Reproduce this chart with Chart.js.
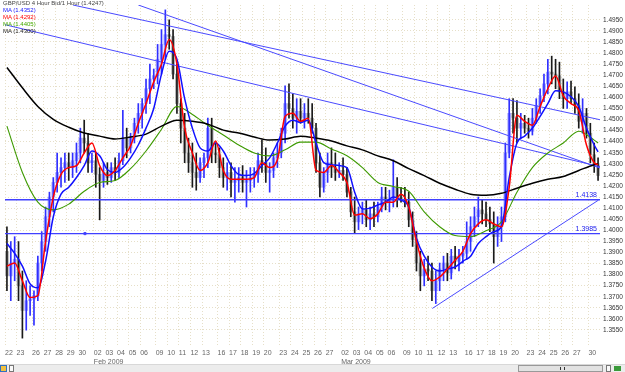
<!DOCTYPE html>
<html lang="en">
<head>
<meta charset="UTF-8">
<title>GBP/USD 4 Hour</title>
<script src="https://cdn.jsdelivr.net/npm/chart.js"></script>
<style>
    body { margin: 0; background: #fff; font-family: "Liberation Sans", Arial, sans-serif; }
    #wrap { position: relative; width: 625px; height: 364px; }
    #legend { position: absolute; left: 3px; top: 0; font-size: 6px; line-height: 7px; color: #444; }
    #strip { position: relative; width: 625px; height: 8px; background: #ececec; border-top: 1px solid #d8d8d8; box-sizing: border-box; }
    #strip div { position: absolute; box-sizing: border-box; }
</style>
</head>
<body>
<div id="wrap">
    <canvas id="fx"></canvas>
    <div id="legend">
        <div>GBP/USD 4 Hour Bid/1 Hour (1.4247)</div>
        <div style="color:#2020ff">MA (1.4352)</div>
        <div style="color:#ff0000">MA (1.4292)</div>
        <div style="color:#44aa00">MA (1.4405)</div>
        <div style="color:#222">MA (1.4300)</div>
    </div>
</div>
<div id="strip">
    <div style="left:0;top:0;width:7px;height:7px;background:#f0c040;border:1px solid #3070c0"></div>
    <div style="left:9px;top:0;width:5px;height:7px;background:#fafafa;border:1px solid #777"></div>
    <div style="left:518px;top:0;width:85px;height:7px;background:#e2e2e2;border:1px solid #999"></div>
    <div style="left:560px;top:2px;width:5px;height:3px;border-left:1px solid #333;border-right:1px solid #333"></div>
    <div style="left:606px;top:0;width:5px;height:7px;background:#fafafa;border:1px solid #777"></div>
    <div style="left:614px;top:1px;width:7px;height:5px;background:#3a9a3a"></div>
</div>
<script>
// 8-hour slots, one slot for each Sunday session
const dayLabels = ['22','23','26','27','28','29','30','02','03','04','05','06','09','10','11','12','13','16','17','18','19','20','23','24','25','26','27','02','03','04','05','06','09','10','11','12','13','16','17','18','19','20','23','24','25','26','27','30'];
const dayStart = [0,3,7,10,13,16,19,23,26,29,32,35,39,42,45,48,51,55,58,61,64,67,71,74,77,80,83,87,90,93,96,99,103,106,109,112,115,119,122,125,128,131,135,138,141,144,147,151];
const monthNames = { 23: 'Feb 2009', 87: 'Mar 2009' };

const open = [
    1.3905,1.3794,1.3852,1.3869,1.3749,1.3638,1.3682,1.3690,1.3705,1.3852,
    1.3949,1.4061,1.4150,1.4216,1.4261,1.4283,1.4305,1.4283,1.4314,1.4349,
    1.4416,1.4394,1.4305,1.4314,1.4252,1.4225,1.4261,1.4238,1.4283,1.4261,
    1.4314,1.4416,1.4372,1.4416,1.4483,1.4528,1.4572,1.4639,1.4683,1.4697,
    1.4772,1.4839,1.4883,1.4875,1.4705,1.4572,1.4461,1.4349,1.4305,1.4261,
    1.4238,1.4305,1.4327,1.4461,1.4349,1.4341,1.4283,1.4238,1.4261,1.4216,
    1.4225,1.4238,1.4216,1.4225,1.4238,1.4252,1.4314,1.4305,1.4261,1.4270,
    1.4327,1.4349,1.4438,1.4572,1.4550,1.4506,1.4537,1.4506,1.4528,1.4506,
    1.4461,1.4305,1.4194,1.4261,1.4305,1.4283,1.4261,1.4270,1.4252,1.4172,
    1.4083,1.4038,1.4074,1.4092,1.4047,1.4074,1.4061,1.4105,1.4150,1.4127,
    1.4136,1.4194,1.4150,1.4141,1.4127,1.4047,1.3958,1.3852,1.3794,1.3825,
    1.3816,1.3727,1.3772,1.3825,1.3852,1.3807,1.3883,1.3860,1.3883,1.3896,
    1.3949,1.4016,1.4061,1.4092,1.4074,1.4047,1.4029,1.3971,1.4016,1.4061,
    1.4349,1.4528,1.4506,1.4461,1.4483,1.4461,1.4447,1.4506,1.4563,1.4607,
    1.4661,1.4714,1.4705,1.4697,1.4625,1.4594,1.4625,1.4594,1.4563,1.4492,
    1.4528,1.4438,1.4341,1.4296
];
const high = [
    1.4016,1.3949,1.3971,1.3949,1.3816,1.3772,1.3749,1.3727,1.3883,1.3994,
    1.4105,1.4172,1.4238,1.4349,1.4327,1.4349,1.4349,1.4349,1.4394,1.4461,
    1.4497,1.4438,1.4349,1.4349,1.4283,1.4305,1.4305,1.4305,1.4327,1.4349,
    1.4541,1.4461,1.4438,1.4506,1.4572,1.4594,1.4683,1.4750,1.4728,1.4839,
    1.4906,1.4995,1.4950,1.4906,1.4750,1.4594,1.4528,1.4416,1.4394,1.4349,
    1.4327,1.4349,1.4506,1.4506,1.4394,1.4372,1.4327,1.4305,1.4305,1.4283,
    1.4283,1.4292,1.4270,1.4283,1.4283,1.4349,1.4407,1.4372,1.4305,1.4349,
    1.4394,1.4461,1.4652,1.4661,1.4616,1.4594,1.4594,1.4572,1.4594,1.4572,
    1.4483,1.4349,1.4283,1.4349,1.4372,1.4349,1.4305,1.4327,1.4283,1.4194,
    1.4150,1.4105,1.4127,1.4136,1.4105,1.4127,1.4127,1.4194,1.4194,1.4181,
    1.4318,1.4238,1.4194,1.4194,1.4172,1.4083,1.3994,1.3905,1.3869,1.3883,
    1.3852,1.3816,1.3852,1.3883,1.3896,1.3914,1.3927,1.3914,1.3927,1.4038,
    1.4061,1.4105,1.4150,1.4136,1.4127,1.4105,1.4083,1.4061,1.4105,1.4394,
    1.4594,1.4594,1.4585,1.4528,1.4519,1.4506,1.4550,1.4594,1.4639,1.4705,
    1.4772,1.4786,1.4772,1.4759,1.4683,1.4670,1.4674,1.4648,1.4616,1.4594,
    1.4550,1.4483,1.4394,1.4327
];
const low = [
    1.3727,1.3682,1.3772,1.3682,1.3513,1.3549,1.3615,1.3571,1.3682,1.3816,
    1.3905,1.4016,1.4083,1.4172,1.4194,1.4216,1.4225,1.4238,1.4261,1.4305,
    1.4349,1.4261,1.4261,1.4194,1.4047,1.4194,1.4207,1.4216,1.4225,1.4238,
    1.4296,1.4327,1.4349,1.4394,1.4438,1.4461,1.4528,1.4572,1.4639,1.4661,
    1.4705,1.4772,1.4817,1.4683,1.4528,1.4394,1.4305,1.4261,1.4194,1.4181,
    1.4216,1.4238,1.4283,1.4305,1.4305,1.4238,1.4194,1.4181,1.4150,1.4127,
    1.4172,1.4172,1.4105,1.4172,1.4194,1.4216,1.4261,1.4216,1.4172,1.4238,
    1.4283,1.4327,1.4394,1.4506,1.4461,1.4438,1.4483,1.4461,1.4483,1.4438,
    1.4261,1.4150,1.4172,1.4216,1.4238,1.4225,1.4238,1.4225,1.4150,1.4061,
    1.3985,1.4003,1.4029,1.4016,1.4003,1.4016,1.4038,1.4083,1.4092,1.4083,
    1.4105,1.4105,1.4127,1.4105,1.4016,1.3927,1.3816,1.3727,1.3749,1.3772,
    1.3682,1.3669,1.3727,1.3772,1.3772,1.3780,1.3825,1.3816,1.3852,1.3869,
    1.3905,1.3971,1.4016,1.4029,1.4016,1.3994,1.3852,1.3927,1.3949,1.4038,
    1.4327,1.4438,1.4394,1.4416,1.4438,1.4416,1.4430,1.4483,1.4528,1.4581,
    1.4616,1.4661,1.4639,1.4594,1.4550,1.4550,1.4572,1.4528,1.4461,1.4438,
    1.4416,1.4305,1.4261,1.4225
];
const close = [
    1.3794,1.3852,1.3869,1.3749,1.3638,1.3682,1.3690,1.3705,1.3852,1.3949,
    1.4061,1.4150,1.4216,1.4261,1.4283,1.4305,1.4283,1.4314,1.4349,1.4416,
    1.4394,1.4305,1.4314,1.4252,1.4225,1.4261,1.4238,1.4283,1.4261,1.4314,
    1.4416,1.4372,1.4416,1.4483,1.4528,1.4572,1.4639,1.4683,1.4697,1.4772,
    1.4839,1.4883,1.4875,1.4705,1.4572,1.4461,1.4349,1.4305,1.4261,1.4238,
    1.4305,1.4327,1.4461,1.4349,1.4341,1.4283,1.4238,1.4261,1.4216,1.4225,
    1.4238,1.4216,1.4225,1.4238,1.4252,1.4314,1.4305,1.4261,1.4270,1.4327,
    1.4349,1.4438,1.4572,1.4550,1.4506,1.4537,1.4506,1.4528,1.4506,1.4461,
    1.4305,1.4194,1.4261,1.4305,1.4283,1.4261,1.4270,1.4252,1.4172,1.4083,
    1.4038,1.4074,1.4092,1.4047,1.4074,1.4061,1.4105,1.4150,1.4127,1.4136,
    1.4194,1.4150,1.4141,1.4127,1.4047,1.3958,1.3852,1.3794,1.3825,1.3816,
    1.3727,1.3772,1.3825,1.3852,1.3807,1.3883,1.3860,1.3883,1.3896,1.3949,
    1.4016,1.4061,1.4092,1.4074,1.4047,1.4029,1.3971,1.4016,1.4061,1.4349,
    1.4528,1.4506,1.4461,1.4483,1.4461,1.4447,1.4506,1.4563,1.4607,1.4661,
    1.4714,1.4705,1.4697,1.4625,1.4594,1.4625,1.4594,1.4563,1.4492,1.4528,
    1.4438,1.4341,1.4296,1.4247
];

// moving averages, read at every 2nd / 4th slot
const fastSlots = [0,2,4,6,8,10,12,14,16,18,20,22,24,26,28,30,32,34,36,38,40,42,44,46,48,50,52,54,56,58,60,62,64,66,68,70,72,74,76,78,80,82,84,86,88,90,92,94,96,98,100,102,104,106,108,110,112,114,116,118,120,122,124,126,128,130,132,134,136,138,140,142,144,146,148,150,152,153];
const maRed = [1.3838,1.3852,1.3772,1.3696,1.3705,1.3949,1.4150,1.4252,1.4283,1.4292,1.4349,1.4394,1.4292,1.4247,1.4270,1.4327,1.4381,1.4483,1.4572,1.4670,1.4750,1.4861,1.4750,1.4461,1.4349,1.4270,1.4305,1.4403,1.4270,1.4230,1.4230,1.4230,1.4238,1.4305,1.4283,1.4318,1.4514,1.4528,1.4492,1.4506,1.4270,1.4261,1.4292,1.4261,1.4216,1.4069,1.4074,1.4052,1.4074,1.4127,1.4127,1.4163,1.4105,1.3949,1.3829,1.3772,1.3789,1.3825,1.3865,1.3905,1.3985,1.4029,1.4047,1.4029,1.4016,1.4194,1.4519,1.4492,1.4474,1.4559,1.4639,1.4697,1.4607,1.4572,1.4541,1.4385,1.4305,1.4296];
const maBlue = [1.3940,1.3896,1.3838,1.3758,1.3740,1.3860,1.4061,1.4163,1.4194,1.4238,1.4292,1.4358,1.4336,1.4274,1.4261,1.4283,1.4327,1.4385,1.4461,1.4550,1.4705,1.4808,1.4772,1.4594,1.4461,1.4372,1.4358,1.4394,1.4358,1.4292,1.4252,1.4247,1.4256,1.4292,1.4327,1.4394,1.4470,1.4497,1.4487,1.4497,1.4394,1.4305,1.4296,1.4292,1.4283,1.4172,1.4096,1.4100,1.4114,1.4127,1.4150,1.4136,1.4105,1.3963,1.3883,1.3834,1.3816,1.3825,1.3834,1.3860,1.3883,1.3940,1.3971,1.3994,1.4016,1.4238,1.4394,1.4425,1.4461,1.4514,1.4572,1.4630,1.4625,1.4603,1.4559,1.4461,1.4385,1.4354];
const slowSlots = [0,4,8,12,16,20,24,28,32,36,40,44,48,52,56,60,64,68,72,76,80,84,88,92,96,100,104,108,112,116,120,124,128,132,136,140,144,148,152,153];
const maGreen = [1.4470,1.4261,1.4127,1.4092,1.4118,1.4176,1.4216,1.4225,1.4278,1.4358,1.4456,1.4559,1.4523,1.4474,1.4430,1.4385,1.4349,1.4336,1.4363,1.4398,1.4398,1.4367,1.4336,1.4283,1.4216,1.4198,1.4176,1.4083,1.4016,1.3976,1.3971,1.3998,1.4038,1.4172,1.4283,1.4349,1.4394,1.4447,1.4407,1.4394];
const maBlack = [1.4735,1.4643,1.4559,1.4501,1.4465,1.4439,1.4425,1.4412,1.4421,1.4434,1.4470,1.4497,1.4492,1.4479,1.4452,1.4439,1.4421,1.4407,1.4412,1.4425,1.4416,1.4403,1.4381,1.4363,1.4336,1.4314,1.4278,1.4247,1.4212,1.4185,1.4163,1.4158,1.4167,1.4190,1.4212,1.4230,1.4243,1.4270,1.4296,1.4300];

// drawn trend lines: [slot, price] end points
const trendLines = [
    [[-0.5, 1.4928], [153.5, 1.4287]],
    [[17.1, 1.5017], [153.5, 1.4499]],
    [[34.0, 1.5017], [153.5, 1.4281]],
    [[110.1, 1.3647], [153.1, 1.4136]]
];
const levels = [1.4138, 1.3985];
const levelMark = [20.2, 1.3985];

const upWick = '#3030ff', upBody = '#a8a8ff';
const downWick = '#1a1a1a', downBody = '#b0b0b0';
const lineBlue = '#4a4aff';
const isUp = i => close[i] >= open[i];

const datasets = [
    {
        type: 'bar', label: 'wick', order: 4, grouped: false, barThickness: 1,
        data: open.map((o, i) => ({ x: i, y: [low[i], high[i]] })),
        backgroundColor: c => isUp(c.dataIndex) ? upWick : downWick
    },
    {
        type: 'bar', label: 'body', order: 5, grouped: false, barThickness: 3, minBarLength: 1,
        data: open.map((o, i) => ({ x: i, y: [o, close[i]] })),
        backgroundColor: c => isUp(c.dataIndex) ? upBody : downBody
    }
];

trendLines.forEach(t => datasets.push({
    type: 'line', order: 3, data: t.map(p => ({ x: p[0], y: p[1] })),
    borderColor: lineBlue, borderWidth: 1, pointRadius: 0
}));
levels.forEach(v => datasets.push({
    type: 'line', order: 3, data: [{ x: -0.5, y: v }, { x: 153.5, y: v }],
    borderColor: '#4040ff', borderWidth: 1.4, pointRadius: 0
}));
datasets.push({
    type: 'line', order: 3, data: [{ x: levelMark[0], y: levelMark[1] }],
    pointStyle: 'rect', pointRadius: 1.5, backgroundColor: lineBlue, borderColor: lineBlue, showLine: false
});

function maLine(xs, ys, color, width, order) {
    return {
        type: 'line', order: order, data: xs.map((x, i) => ({ x: x, y: ys[i] })),
        borderColor: color, borderWidth: width, pointRadius: 0, cubicInterpolationMode: 'monotone'
    };
}
datasets.push(maLine(slowSlots, maBlack, '#000000', 1.5, 2));
datasets.push(maLine(slowSlots, maGreen, '#3d9a00', 1.1, 2));
datasets.push(maLine(fastSlots, maBlue, '#1010ff', 1.5, 1));
datasets.push(maLine(fastSlots, maRed, '#ff0000', 1.5, 0));

const levelLabels = {
    id: 'levelLabels',
    afterDatasetsDraw(chart) {
        const { ctx, chartArea, scales } = chart;
        ctx.save();
        ctx.font = '7px "Liberation Sans", Arial, sans-serif';
        ctx.fillStyle = '#2020ee';
        ctx.textAlign = 'right';
        ctx.textBaseline = 'bottom';
        levels.forEach(v => ctx.fillText(v.toFixed(4), chartArea.right - 3, scales.y.getPixelForValue(v) - 1));
        ctx.restore();
    }
};

const gridStyle = { color: '#e6dfc8', drawTicks: false };
const borderStyle = { display: false, dash: [1, 2] };

new Chart(document.getElementById('fx'), {
    type: 'bar',
    data: { datasets: datasets },
    plugins: [levelLabels],
    options: {
        responsive: true,
        maintainAspectRatio: false,
        animation: false,
        events: [],
        layout: { padding: { left: 5, top: 0, right: 0, bottom: 0 } },
        plugins: { legend: { display: false }, tooltip: { enabled: false } },
        scales: {
            x: {
                type: 'linear', min: -0.5, max: 153.5, offset: false,
                grid: Object.assign({ offset: false }, gridStyle),
                border: borderStyle,
                afterBuildTicks: s => { s.ticks = dayStart.map(d => ({ value: d - 0.5 })); },
                afterFit: s => { s.height = 19; s.paddingLeft = 0; s.paddingRight = 0; },
                ticks: {
                    align: 'start', padding: 4, autoSkip: false, maxRotation: 0,
                    color: '#666', font: { size: 7, family: '"Liberation Sans", Arial' },
                    callback: (v, i) => monthNames[dayStart[i]] ? [dayLabels[i], monthNames[dayStart[i]]] : dayLabels[i]
                }
            },
            y: {
                position: 'right', min: 1.3482, max: 1.5017,
                grid: gridStyle,
                border: borderStyle,
                afterBuildTicks: s => {
                    const t = [];
                    for (let k = 271; k <= 299; k++) t.push({ value: k * 0.005 });
                    s.ticks = t;
                },
                afterFit: s => { s.width = 25; s.paddingTop = 0; s.paddingBottom = 0; },
                ticks: {
                    padding: 3, color: '#333', font: { size: 6.5, family: '"Liberation Sans", Arial' },
                    callback: v => v.toFixed(4)
                }
            }
        }
    }
});
</script>
</body>
</html>
